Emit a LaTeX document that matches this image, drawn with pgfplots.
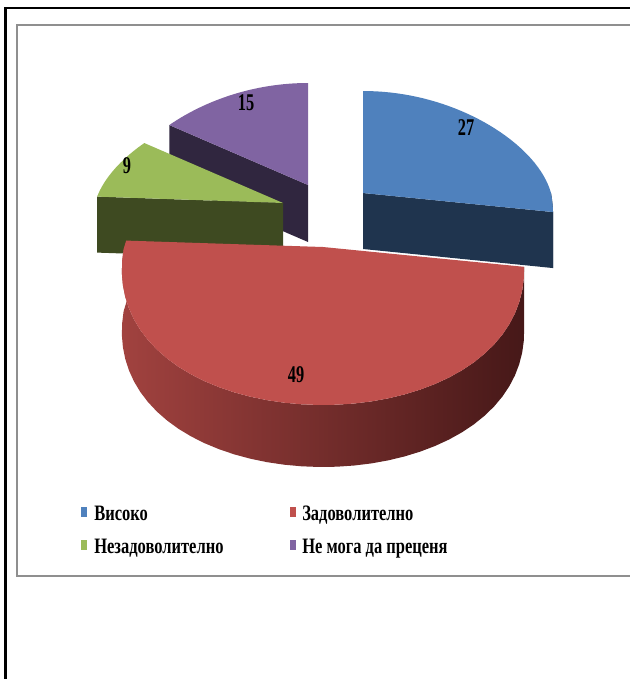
\documentclass[border=0pt]{standalone}
\usepackage{pgfplots}
\pgfplotsset{compat=1.18}
\usepackage{pgfplotstable}
\usepackage{graphicx}
\usepackage{fontspec}
\setmainfont{Liberation Serif}

\definecolor{blueTop}{HTML}{4F81BD}
\definecolor{blueSide}{HTML}{1F344E}
\definecolor{redTop}{HTML}{C0504D}
\definecolor{redSideL}{HTML}{A1423F}
\definecolor{redSideR}{HTML}{461818}
\definecolor{greenTop}{HTML}{9BBB59}
\definecolor{greenSide}{HTML}{3E4A21}
\definecolor{purpleTop}{HTML}{8064A2}
\definecolor{purpleSide}{HTML}{30263F}
\definecolor{frameGray}{HTML}{8F8F8F}

% slice values (percent) and the drawn geometry of each slice (pixels)
\pgfplotstableread{
slice value cx  cy  rx  ryf depth
1     27    363 193 188 152 56
2     49    323 247 199 158 62
3     9     283 203 188 155 56
4     15    308 185 188 155 57
}\slices

\newcommand\getv[3]{\pgfplotstablegetelem{#1}{#2}\of\slices\global\let#3\pgfplotsretval}

% top face: color, cx, cy, rx, ryf, start angle, end angle
\newcommand\TopFace[7]{%
 \addplot[draw=none, fill=#1, samples at={0,...,41}, variable=\t]
 ({(\t<41)*pieX(pieAng(\t,#6,#7),#2,#4)+(\t>40)*#2},
  {(\t<41)*pieY(pieAng(\t,#6,#7),#3,#5)+(\t>40)*#3});}
% curved side band: style, cx, cy, rx, ryf, a, b, depth
\newcommand\Band[8]{%
 \addplot[draw=none, #1, samples at={0,...,81}, variable=\t]
 ({(\t<41)*pieX(pieAng(\t,#6,#7),#2,#4)+(\t>40)*pieX(pieAng(\t-41,#7,#6),#2,#4)},
  {(\t<41)*pieY(pieAng(\t,#6,#7),#3,#5)+(\t>40)*(pieY(pieAng(\t-41,#7,#6),#3,#5)+#8)});}
% radial side face: color, cx, cy, rx, ryf, angle, depth
\newcommand\Radial[7]{%
 \addplot[draw=none, fill=#1, samples at={0,1,2,3}, variable=\t]
 ({(\t<0.5)*#2+(\t>2.5)*#2+(\t>0.5)*(\t<2.5)*pieX(#6,#2,#4)},
  {(\t<0.5)*#3+(\t>0.5)*(\t<1.5)*pieY(#6,#3,#5)+(\t>1.5)*(\t<2.5)*(pieY(#6,#3,#5)+#7)+(\t>2.5)*(#3+#7)});}

\newcommand\labfont{\bfseries\fontsize{18}{18}\selectfont}
\newcommand\legfont{\bfseries\fontsize{16.5}{16.5}\selectfont}
\newcommand\lab[1]{\scalebox{0.68}[1]{#1}}
\newcommand\leg[1]{\scalebox{0.75}[1]{#1}}

\begin{document}
\begin{tikzpicture}
\getv{0}{value}\vA \getv{1}{value}\vB \getv{2}{value}\vC \getv{3}{value}\vD
\getv{0}{cx}\cxA \getv{1}{cx}\cxB \getv{2}{cx}\cxC \getv{3}{cx}\cxD
\getv{0}{cy}\cyA \getv{1}{cy}\cyB \getv{2}{cy}\cyC \getv{3}{cy}\cyD
\getv{0}{rx}\rxA \getv{1}{rx}\rxB \getv{2}{rx}\rxC \getv{3}{rx}\rxD
\getv{0}{ryf}\ryA \getv{1}{ryf}\ryB \getv{2}{ryf}\ryC \getv{3}{ryf}\ryD
\getv{0}{depth}\dA \getv{1}{depth}\dB \getv{2}{depth}\dC \getv{3}{depth}\dD
\pgfmathsetmacro\aA{90}
\pgfmathsetmacro\aB{\aA-3.6*\vA}
\pgfmathsetmacro\aC{\aB-3.6*\vB}
\pgfmathsetmacro\aD{\aC-3.6*\vC}
\pgfmathsetmacro\aE{\aD-3.6*\vD}
\begin{axis}[
  scale only axis, width=472.5pt, height=509.25pt,
  xmin=0, xmax=630, ymin=0, ymax=679, y dir=reverse,
  hide axis, clip=true,
  /pgf/declare function={
    pieAng(\t,\a,\b)=(\a)+((\b)-(\a))*(\t)/40;
    pieX(\h,\c,\r)=(\c)+(\r)*(1-0.15*sin(\h))*cos(\h);
    pieY(\h,\c,\r)=(\c)-sin(\h)*((sin(\h)>0)*102+(sin(\h)<=0)*(\r));
  },
]
% frames
\draw[line width=2pt, black] (axis cs:5.3,690) -- (axis cs:5.3,8) -- (axis cs:700,8);
\draw[line width=1.6pt, frameGray] (axis cs:17.3,25.3) rectangle (axis cs:700,576);

% purple slice (back left)
\Radial{purpleSide}{\cxD}{\cyD}{\rxD}{\ryD}{\aD}{\dD}
\TopFace{purpleTop}{\cxD}{\cyD}{\rxD}{\ryD}{\aD}{\aE}
% blue slice (back right)
\Band{left color=blueSide, right color=blueSide}{\cxA}{\cyA}{\rxA}{\ryA}{0}{\aB}{\dA}
\Radial{blueSide}{\cxA}{\cyA}{\rxA}{\ryA}{\aB}{\dA}
\TopFace{blueTop}{\cxA}{\cyA}{\rxA}{\ryA}{\aA}{\aB}
% green slice (left)
\Radial{greenSide}{\cxC}{\cyC}{\rxC}{\ryC}{\aC}{\dC}
\TopFace{greenTop}{\cxC}{\cyC}{\rxC}{\ryC}{\aC}{\aD}
% red slice (front)
\Band{left color=redSideL, right color=redSideR}{\cxB}{\cyB}{\rxB}{\ryB}{\aB}{\aC}{\dB}
\TopFace{redTop}{\cxB}{\cyB}{\rxB}{\ryB}{\aB}{\aC}

% data labels
\node[inner sep=0, font=\labfont] at (axis cs:466,128) {\lab{\vA}};
\node[inner sep=0, font=\labfont] at (axis cs:296,375) {\lab{\vB}};
\node[inner sep=0, font=\labfont] at (axis cs:127,166) {\lab{\vC}};
\node[inner sep=0, font=\labfont] at (axis cs:246,103) {\lab{\vD}};

% legend
\fill[blueTop]   (axis cs:81,507) rectangle (axis cs:87,517);
\fill[redTop]    (axis cs:289.5,507) rectangle (axis cs:295.5,517);
\fill[greenTop]  (axis cs:81,540) rectangle (axis cs:87,550);
\fill[purpleTop] (axis cs:289.5,540) rectangle (axis cs:295.5,550);
\node[inner sep=0, anchor=base west, font=\legfont] at (axis cs:94,520.5) {\leg{Високо}};
\node[inner sep=0, anchor=base west, font=\legfont] at (axis cs:302,520.5) {\leg{Задоволително}};
\node[inner sep=0, anchor=base west, font=\legfont] at (axis cs:94,553.5) {\leg{Незадоволително}};
\node[inner sep=0, anchor=base west, font=\legfont] at (axis cs:302,553.5) {\leg{Не мога да преценя}};

\coordinate (BL) at (axis cs:0,679);
\coordinate (TR) at (axis cs:630,0);
\end{axis}
\pgfresetboundingbox
\path[use as bounding box] (BL) rectangle (TR);
\end{tikzpicture}
\end{document}
